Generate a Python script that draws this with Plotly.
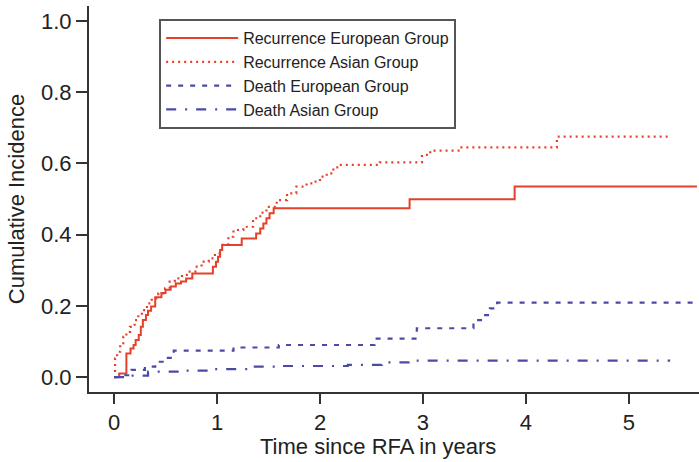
import plotly.graph_objects as go

# cumulative incidence (step curves)
rec_eu_t = [0, 0.05, 0.12, 0.16, 0.19, 0.21, 0.24, 0.26, 0.28, 0.31, 0.33, 0.36, 0.40,
            0.46, 0.50, 0.55, 0.60, 0.65, 0.70, 0.76, 0.96, 0.99, 1.01, 1.03, 1.05,
            1.24, 1.38, 1.42, 1.45, 1.48, 1.51, 1.55, 2.87, 3.89, 5.66]
rec_eu_ci = [0, 0.01, 0.066, 0.08, 0.09, 0.104, 0.118, 0.141, 0.16, 0.174, 0.186, 0.198, 0.224,
             0.236, 0.245, 0.254, 0.263, 0.268, 0.277, 0.291, 0.31, 0.324, 0.338, 0.357, 0.371,
             0.389, 0.403, 0.417, 0.431, 0.446, 0.46, 0.474, 0.499, 0.535, 0.535]

rec_as_t = [0, 0.01, 0.03, 0.06, 0.09, 0.12, 0.155, 0.20, 0.236, 0.27, 0.32, 0.366, 0.43,
            0.495, 0.54, 0.59, 0.66, 0.72, 0.79, 0.85, 0.92, 0.98, 1.045, 1.11, 1.16,
            1.255, 1.35, 1.42, 1.48, 1.58, 1.68, 1.77, 1.87, 1.935, 2.0, 2.065, 2.13,
            2.19, 2.58, 2.99, 3.07, 3.36, 4.30, 5.40]
rec_as_ci = [0, 0.052, 0.071, 0.09, 0.113, 0.127, 0.141, 0.16, 0.174, 0.188, 0.207, 0.221, 0.235,
             0.249, 0.268, 0.277, 0.287, 0.296, 0.31, 0.324, 0.333, 0.347, 0.371, 0.394, 0.413,
             0.422, 0.446, 0.462, 0.478, 0.497, 0.516, 0.535, 0.544, 0.549, 0.563, 0.572, 0.589,
             0.596, 0.603, 0.624, 0.636, 0.645, 0.675, 0.677]

death_eu_t = [0, 0.11, 0.17, 0.30, 0.40, 0.51, 0.58, 1.16, 1.6, 2.53, 2.94, 3.49, 3.585,
              3.65, 3.72, 5.66]
death_eu_ci = [0, 0.005, 0.02, 0.029, 0.043, 0.054, 0.074, 0.083, 0.09, 0.108, 0.137, 0.16, 0.174,
               0.193, 0.209, 0.209]

death_as_t = [0, 0.11, 0.33, 0.69, 0.98, 1.30, 1.63, 2.27, 2.60, 2.86, 5.40]
death_as_ci = [0, 0.004, 0.015, 0.018, 0.022, 0.029, 0.031, 0.034, 0.041, 0.046, 0.046]

red = "#e5402a"
blue = "#4b4ba6"
axcol = "#333333"

fig = go.Figure()
fig.add_trace(go.Scatter(x=rec_eu_t, y=rec_eu_ci, mode="lines", line_shape="hv",
                         name="Recurrence European Group",
                         line=dict(color=red, width=2)))
fig.add_trace(go.Scatter(x=rec_as_t, y=rec_as_ci, mode="lines", line_shape="hv",
                         name="Recurrence Asian Group",
                         line=dict(color=red, width=2.2, dash="2px,4px")))
fig.add_trace(go.Scatter(x=death_eu_t, y=death_eu_ci, mode="lines", line_shape="hv",
                         name="Death European Group",
                         line=dict(color=blue, width=2.2, dash="5px,7px")))
fig.add_trace(go.Scatter(x=death_as_t, y=death_as_ci, mode="lines", line_shape="hv",
                         name="Death Asian Group",
                         line=dict(color=blue, width=2.2, dash="10px,9px,2px,9px")))

fig.update_layout(
    width=699, height=462,
    margin=dict(l=89, r=0, t=6, b=70),
    plot_bgcolor="white", paper_bgcolor="white",
    font=dict(family="Liberation Sans, Arial, sans-serif", color="#222222"),
    showlegend=True,
    legend=dict(x=0.115, y=0.966, xanchor="left", yanchor="top",
                bordercolor="#555555", borderwidth=2, bgcolor="white",
                font=dict(size=16), itemwidth=72,
                tracegroupgap=0),
    annotations=[dict(text="Time since RFA in years", xref="paper", yref="paper",
                      x=0.473, y=-0.14, xanchor="center", yanchor="middle",
                      showarrow=False, font=dict(size=22))],
)
fig.update_xaxes(range=[-0.243, 5.68], tickvals=[0, 1, 2, 3, 4, 5],
                 showgrid=False, zeroline=False, automargin=False,
                 showline=True, linecolor=axcol, linewidth=2,
                 ticks="outside", ticklen=10, tickwidth=2, tickcolor=axcol,
                 tickfont=dict(size=22))
fig.update_yaxes(range=[-0.042, 1.042], tickvals=[0, 0.2, 0.4, 0.6, 0.8, 1.0],
                 tickformat=".1f",
                 showgrid=False, zeroline=False, automargin=False,
                 showline=True, linecolor=axcol, linewidth=2,
                 ticks="outside", ticklen=11, tickwidth=2, tickcolor=axcol,
                 tickfont=dict(size=22),
                 title=dict(text="Cumulative Incidence", font=dict(size=22), standoff=10))

# page body margin would shift the fixed-size figure
fig.write_html("out.html", config={"displayModeBar": False},
               post_script="document.body.style.margin='0';")
